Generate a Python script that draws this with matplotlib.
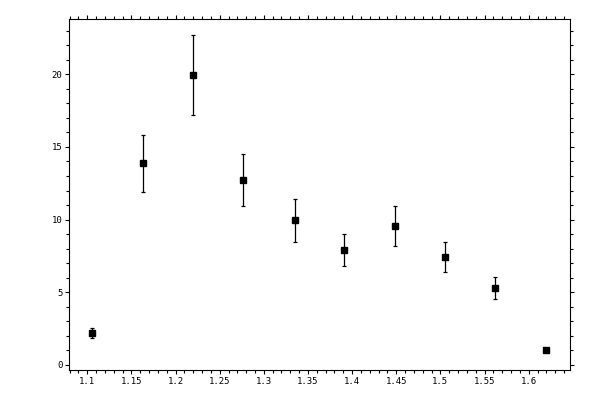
import matplotlib
matplotlib.use("Agg")
import matplotlib.pyplot as plt
from matplotlib.ticker import MultipleLocator, FormatStrFormatter

# data
x_vals = [1.1057, 1.1634, 1.2201, 1.2767, 1.3348, 1.3911, 1.4489, 1.5056, 1.5622, 1.6199]
y_vals = [2.18, 13.88, 19.94, 12.71, 9.96, 7.89, 9.55, 7.41, 5.28, 1.01]
y_errs = [0.33, 1.96, 2.77, 1.78, 1.48, 1.10, 1.35, 1.05, 0.76, 0.15]


def fmt_x(v, pos):
    s = f"{v:.2f}".rstrip("0").rstrip(".")
    return s


fig = plt.figure(figsize=(6, 4), dpi=100)
ax = fig.add_axes([0.115, 0.075, 0.835, 0.8775])

ax.errorbar(x_vals, y_vals, yerr=y_errs, fmt="s", color="black",
            markersize=5, elinewidth=0.9, capsize=1.6, capthick=0.9)

ax.set_xlim(1.0793, 1.6468)
ax.set_ylim(-0.35, 23.8)

ax.xaxis.set_major_locator(MultipleLocator(0.05))
ax.xaxis.set_minor_locator(MultipleLocator(0.01))
ax.yaxis.set_major_locator(MultipleLocator(5))
ax.yaxis.set_minor_locator(MultipleLocator(1))
ax.xaxis.set_major_formatter(plt.FuncFormatter(fmt_x))
ax.yaxis.set_major_formatter(FormatStrFormatter("%d"))

ax.tick_params(which="both", direction="out", top=True, right=True,
               width=0.8, labelsize=6.5, pad=1.5)
ax.tick_params(which="major", length=3.2)
ax.tick_params(which="minor", length=2.0)
for lab in ax.get_xticklabels() + ax.get_yticklabels():
    lab.set_family("DejaVu Sans Mono")

for sp in ax.spines.values():
    sp.set_linewidth(0.8)

fig.savefig("out.png", dpi=100)
